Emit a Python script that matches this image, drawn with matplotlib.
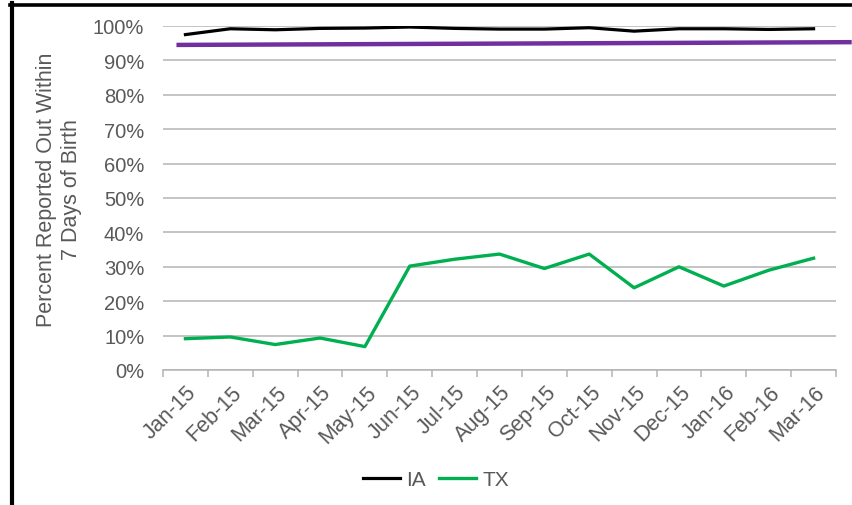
import numpy as np
import matplotlib.pyplot as plt
import matplotlib.transforms as mtransforms
from matplotlib.lines import Line2D
from matplotlib.ticker import FuncFormatter

plt.rcParams['font.family'] = ['Liberation Sans', 'DejaVu Sans']

## Données
months = ['Jan-15', 'Feb-15', 'Mar-15', 'Apr-15', 'May-15', 'Jun-15', 'Jul-15',
          'Aug-15', 'Sep-15', 'Oct-15', 'Nov-15', 'Dec-15', 'Jan-16', 'Feb-16',
          'Mar-16']
ia = [97.5, 99.2, 98.9, 99.3, 99.4, 99.7, 99.3, 99.1, 99.1, 99.5, 98.5, 99.2,
      99.2, 99.0, 99.2]
tx = [9.1, 9.6, 7.4, 9.3, 6.8, 30.2, 32.2, 33.7, 29.5, 33.7, 23.9, 30.0,
      24.4, 29.0, 32.5]
goal = [94.5, 95.3]  # ligne violette (debut, fin)

grey_txt = '#595959'
grey_line = '#B4B4B4'
fs = 14.5

fig = plt.figure(figsize=(8.52, 5.06), dpi=100)
W, H = 852, 506
ax = fig.add_axes([163 / W, 1 - 371 / H, (836 - 163) / W, (371 - 27) / H])

x = np.arange(len(months))
ax.plot(x, ia, color='black', lw=2.3, label='IA', solid_joinstyle='round')
ax.plot(x, tx, color='#00B050', lw=2.4, label='TX', solid_joinstyle='round')
ax.plot([-0.2, len(months) - 0.15], goal, color='#7030A0', lw=3.2,
        clip_on=False, solid_capstyle='butt')

ax.set_xlim(-0.5, len(months) - 0.5)
ax.set_ylim(0, 100)
ax.set_yticks(np.arange(0, 101, 10))
ax.yaxis.set_major_formatter(FuncFormatter(lambda v, p: '%d%%' % v))
ax.grid(axis='y', color=grey_line, lw=1.1)
ax.set_axisbelow(True)

for s in ['top', 'right', 'left']:
    ax.spines[s].set_visible(False)
ax.spines['bottom'].set_color(grey_line)
ax.spines['bottom'].set_linewidth(1.1)

ax.tick_params(axis='y', length=0, pad=13.5, labelsize=fs, labelcolor=grey_txt)
ax.set_xticks(x)
ax.set_xticks(np.arange(-0.5, len(months), 1), minor=True)
ax.set_xticklabels(months, rotation=45, ha='right', rotation_mode='anchor')
ax.tick_params(axis='x', which='major', length=0, pad=8, labelsize=15.5,
               labelcolor=grey_txt)
ax.tick_params(axis='x', which='minor', length=5, width=1.1, color=grey_line)
off = mtransforms.ScaledTranslation(0.5 / 72, 0, fig.dpi_scale_trans)
for lab in ax.get_xticklabels():
    lab.set_transform(lab.get_transform() + off)

fig.text(59 / W, 1 - 190 / H, 'Percent Reported Out Within\n7 Days of Birth',
         rotation=90, ha='center', va='center', multialignment='center',
         fontsize=15.5, color=grey_txt, linespacing=1.2)

ax.legend(loc='center', bbox_to_anchor=(436 / W, 1 - 481 / H),
          bbox_transform=fig.transFigure, ncol=2, frameon=False, fontsize=15,
          handlelength=1.8, handletextpad=0.3, columnspacing=0.6,
          labelcolor=grey_txt)

# cadre noir (haut et gauche)
fig.add_artist(Line2D([10 / W, 1], [1 - 5.5 / H, 1 - 5.5 / H], color='black',
                      lw=2.6, transform=fig.transFigure))
fig.add_artist(Line2D([11.5 / W, 11.5 / W], [1 - 4 / H, 0], color='black',
                      lw=3, transform=fig.transFigure))

fig.savefig('out.png', dpi=100)
